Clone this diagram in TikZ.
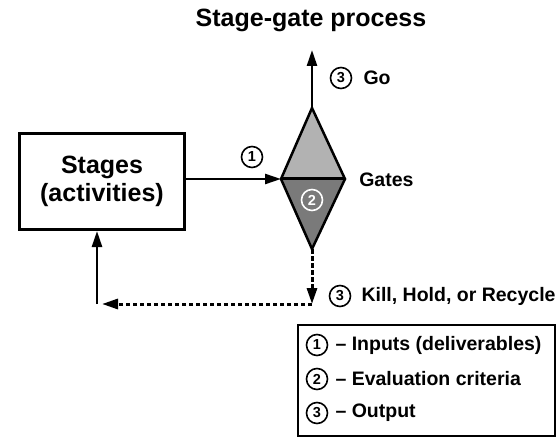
\documentclass[tikz,border=0pt]{standalone}
\usepackage{fontspec}
\setmainfont{Liberation Sans}
\usetikzlibrary{arrows.meta, positioning, calc}

\begin{document}
\begin{tikzpicture}[
    x=1pt, y=-1pt,
    > = {Triangle[length=16pt, width=10pt]},
    line width=2.5pt,
    big/.style={font=\fontsize{25}{28}\selectfont\bfseries},
    lbl/.style={font=\fontsize{19.5}{23}\selectfont\bfseries, anchor=west, inner sep=0pt},
    stagebox/.style={draw, line width=3pt, minimum width=165pt, minimum height=96pt, align=center},
    num/.style={circle, draw, line width=1.6pt, minimum size=21pt, inner sep=0pt, font=\fontsize{14.5}{14.5}\selectfont\bfseries},
    flow/.style={->, line width=2.5pt},
    back/.style={->, line width=3pt, dash pattern=on 4.5pt off 2.5pt}
]
    \useasboundingbox (0,0) rectangle (560,441);

    \node[big, anchor=base] (title) at (311,27) {Stage-gate process};

    % gate diamond
    \coordinate (gtop) at (312,108);
    \coordinate (gleft) at (281,179);
    \coordinate (gright) at (345,179);
    \coordinate (gbot) at (312,249);
    \fill[black!30] (gtop) -- (gright) -- (gleft) -- cycle;
    \fill[black!52] (gleft) -- (gright) -- (gbot) -- cycle;
    \draw[line join=miter] (gtop) -- (gright) -- (gbot) -- (gleft) -- cycle;
    \draw[line width=3pt] (gleft) -- (gright);
    \node[num, draw=white, text=white] (n2) at (312,200) {2};
    \node[lbl] (gates) at (358,180) {Gates};

    \node[stagebox, big] (stages) at (102,181.5) {Stages\\(activities)};
    \draw[flow] (stages.east |- gleft) -- (gleft);
    \node[num] (n1) at (252,157) {1};

    \coordinate (go) at (312,50);
    \draw[flow] (gtop) -- (go);
    \node[num] (n3go) at (341,78) {3};
    \node[lbl, right=10pt of n3go] (golbl) {Go};

    \coordinate (kill) at (312,304);
    \coordinate (turn) at (97,304);
    \draw[back] (gbot) -- (kill);
    \draw[back, shorten >=5pt] (kill) -- (turn);
    \draw[flow] (turn) -- (stages.south -| turn);
    \node[num] (n3kill) at (340,296) {3};
    \node[lbl, right=9pt of n3kill] (killlbl) {Kill, Hold, or Recycle};

    % legend
    \node[draw, minimum width=257pt, minimum height=111pt] (legend) at (426.5,380.5) {};
    \node[num] (k1) at (317,345) {1};
    \node[lbl, right=6pt of k1] (k1lbl) {-- Inputs (deliverables)};
    \node[num] (k2) at (317,379) {2};
    \node[lbl, right=6pt of k2] (k2lbl) {-- Evaluation criteria};
    \node[num] (k3) at (317,413) {3};
    \node[lbl, right=6pt of k3] (k3lbl) {-- Output};
\end{tikzpicture}
\end{document}
